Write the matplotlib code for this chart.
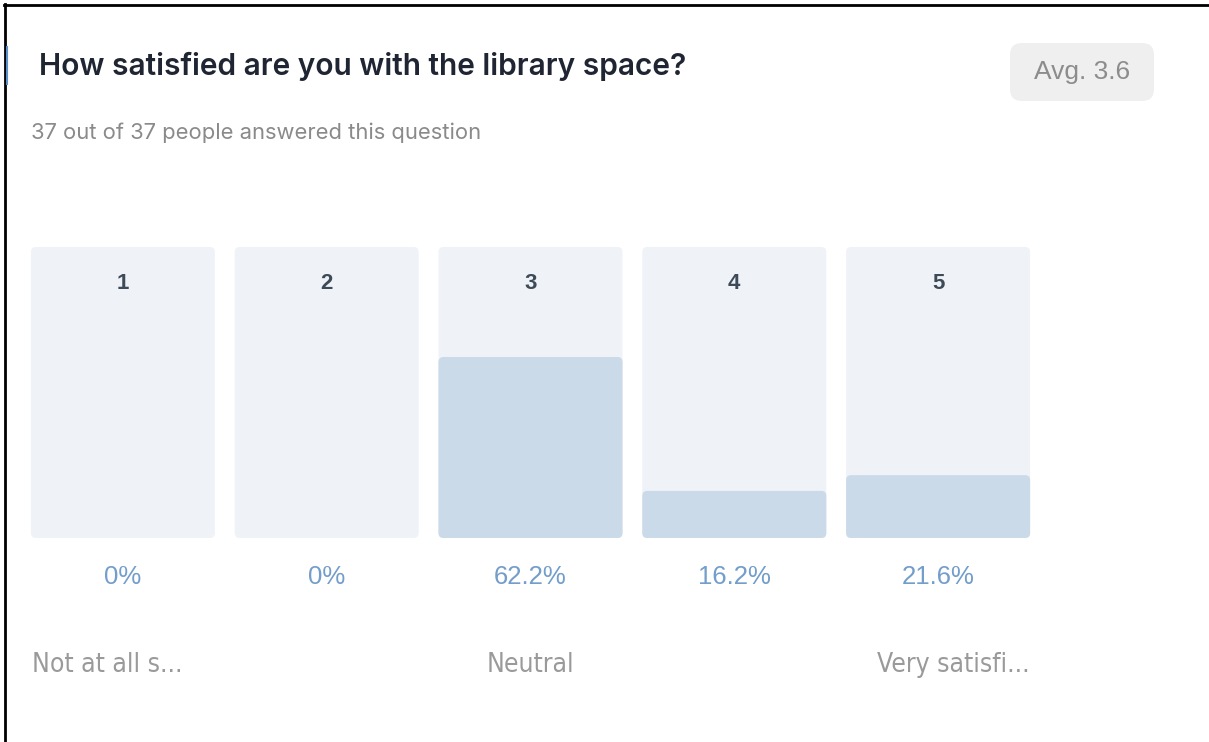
import matplotlib.pyplot as plt
from matplotlib.patches import FancyBboxPatch
from matplotlib.lines import Line2D

title = 'How satisfied are you with the library space?'
subtitle = '37 out of 37 people answered this question'
avg_label = 'Avg. 3.6'
ratings = ['1', '2', '3', '4', '5']
percents = [0, 0, 62.2, 16.2, 21.6]
percent_labels = ['0%', '0%', '62.2%', '16.2%', '21.6%']
scale_labels = ['Not at all s...', 'Neutral', 'Very satisfi...']

W, H = 1209, 742
fig = plt.figure(figsize=(W / 100, H / 100), dpi=100)
fig.patch.set_facecolor('white')

# bar area in pixels: left 21, right 1040, top 247, bottom 538
ax = fig.add_axes([21 / W, 1 - 538 / H, (1040 - 21) / W, (538 - 247) / H])
ax.set_xlim(-0.5, 4.5)
ax.set_ylim(0, 100)
ax.axis('off')

x = list(range(len(ratings)))
width = 0.903
bg = ax.bar(x, [100] * len(x), width=width, color='none')
fg = ax.bar(x, percents, width=width, color='none')

# rounded corners: ~5 px
rx = 5 / 203.75
ry = 5 / 2.91
for bars, col in [(bg, '#eff3f8'), (fg, '#cbdae8')]:
    for b in bars:
        if b.get_height() <= 0:
            continue
        p = FancyBboxPatch((b.get_x(), b.get_y()), b.get_width(), b.get_height(),
                           boxstyle=f'round,pad=0,rounding_size={rx}',
                           mutation_aspect=ry / rx, linewidth=0, facecolor=col)
        ax.add_patch(p)

for i, r in enumerate(ratings):
    ax.text(i, 87.6, r, ha='center', va='center', fontsize=16, fontweight='bold',
            color='#3e4a58', family='Liberation Sans')
    ax.text(i, -13.4, percent_labels[i], ha='center', va='center', fontsize=18.5,
            color='#739dca', family='Liberation Sans')

# scale labels under the bars
lab_y = -43.6
lab_kw = dict(va='center', fontsize=19, color='#9a9a9a', family='DejaVu Sans',
              fontstretch='condensed')
ax.text(-0.5 + (1 - width) / 2 + 0.005, lab_y, scale_labels[0], ha='left', **lab_kw)
ax.text(2, lab_y, scale_labels[1], ha='center', **lab_kw)
ax.text(4 + width / 2, lab_y, scale_labels[2], ha='right', **lab_kw)

# header
fig.text(39 / W, 1 - 66 / H, title, ha='left', va='center', fontsize=21.5,
         fontweight='semibold', color='#1f2533', family='Inter')
fig.text(31 / W, 1 - 133 / H, subtitle, ha='left', va='center', fontsize=15.8,
         color='#8a8a8a', family='Inter')

# avg badge
ov = fig.add_axes([0, 0, 1, 1], zorder=-1)
ov.set_xlim(0, W)
ov.set_ylim(H, 0)
ov.axis('off')
ov.add_patch(FancyBboxPatch((1010, 43), 144, 58, boxstyle='round,pad=0,rounding_size=12',
                            linewidth=0, facecolor='#efefef'))
ov.text(1082, 72, avg_label, ha='center', va='center', fontsize=19,
        color='#8c8c8c', family='Liberation Sans')

# frame and accent
ov.add_line(Line2D([4.5, 4.5], [4, H], color='black', linewidth=2))
ov.add_line(Line2D([4, W], [4.5, 4.5], color='black', linewidth=2))
ov.add_line(Line2D([7, 7], [47, 84], color='#5b8fc7', linewidth=1.5))

fig.savefig('out.png', dpi=100)
